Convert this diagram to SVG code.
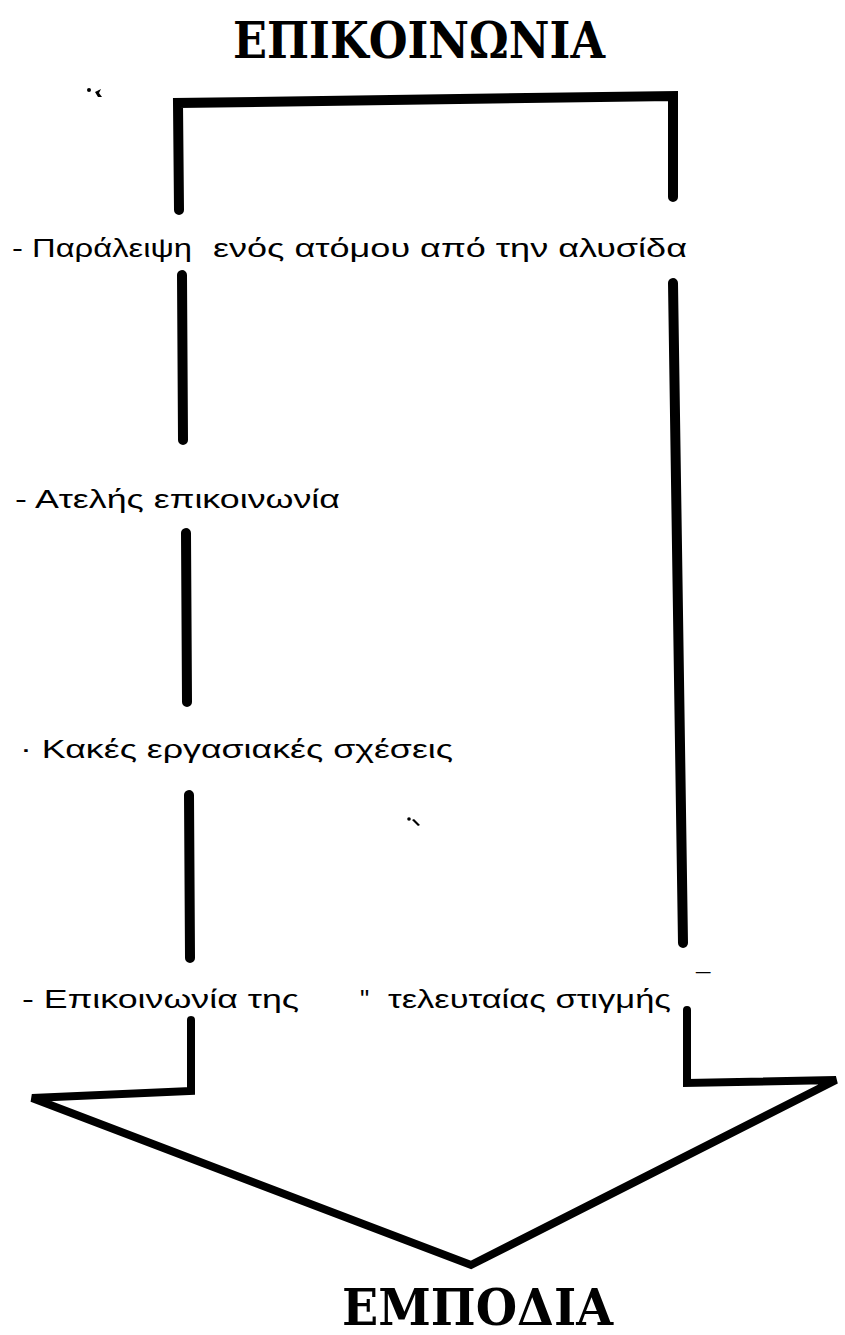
<svg xmlns="http://www.w3.org/2000/svg" width="845" height="1335" viewBox="0 0 845 1335">
  <style>
    .line { fill: none; stroke: #000; stroke-width: 10; stroke-linecap: round; stroke-linejoin: miter; }
    .thin { fill: none; stroke: #000; stroke-width: 8; stroke-linecap: round; stroke-linejoin: miter; }
    .head { font-family: "DejaVu Serif", "Liberation Serif", serif; font-weight: bold; font-size: 50px; fill: #000; }
    .item { font-family: "Liberation Sans", "DejaVu Sans", sans-serif; font-size: 26px; fill: #000; }
    .speck { fill: #000; }
  </style>
  <rect width="845" height="1335" fill="#fff"/>

  <g id="title">
    <text class="head" x="233" y="58" textLength="372" lengthAdjust="spacingAndGlyphs">ΕΠΙΚΟΙΝΩΝΙΑ</text>
  </g>

  <g id="connectors">
    <path class="line" d="M179,210 L178,103 L673,96 L673,197"/>
    <path class="line" d="M182,275 L183,440"/>
    <path class="line" d="M186,533 L187,702"/>
    <path class="line" d="M189,795 L190,958"/>
    <path class="line" d="M673,283 L683,943"/>
    <path class="thin" d="M191,1020 L191,1091 L32,1098 L471,1265 L836,1080 L687,1083 L687,1010"/>
  </g>

  <g id="specks">
    <circle class="speck" cx="89" cy="90" r="2"/>
    <path class="speck" d="M95,92 L101,89 L99,93 L102,97 L98,97 Z"/>
    <circle class="speck" cx="409" cy="819" r="1.8"/>
    <path class="speck" d="M412,820 L414,819 L420,825 L418,826 Z"/>
  </g>

  <g id="item1">
    <text class="item" x="12" y="257" textLength="180" lengthAdjust="spacingAndGlyphs">- Παράλειψη</text>
    <text class="item" x="213" y="257" textLength="474" lengthAdjust="spacingAndGlyphs">ενός ατόμου από την αλυσίδα</text>
  </g>

  <g id="item2">
    <text class="item" x="15" y="508" textLength="325" lengthAdjust="spacingAndGlyphs">- Ατελής επικοινωνία</text>
  </g>

  <g id="item3">
    <text class="item" x="20" y="758" textLength="433" lengthAdjust="spacingAndGlyphs">· Κακές εργασιακές σχέσεις</text>
  </g>

  <g id="item4">
    <text class="item" x="22" y="1008" textLength="277" lengthAdjust="spacingAndGlyphs">- Επικοινωνία της</text>
    <text class="item" x="360" y="1008">"</text>
    <text class="item" x="388" y="1008" textLength="283" lengthAdjust="spacingAndGlyphs">τελευταίας στιγμής</text>
    <text class="item" x="696" y="992">¯</text>
  </g>

  <g id="bottom-label">
    <text class="head" x="342" y="1325" textLength="271" lengthAdjust="spacingAndGlyphs">ΕΜΠΟΔΙΑ</text>
  </g>
</svg>
